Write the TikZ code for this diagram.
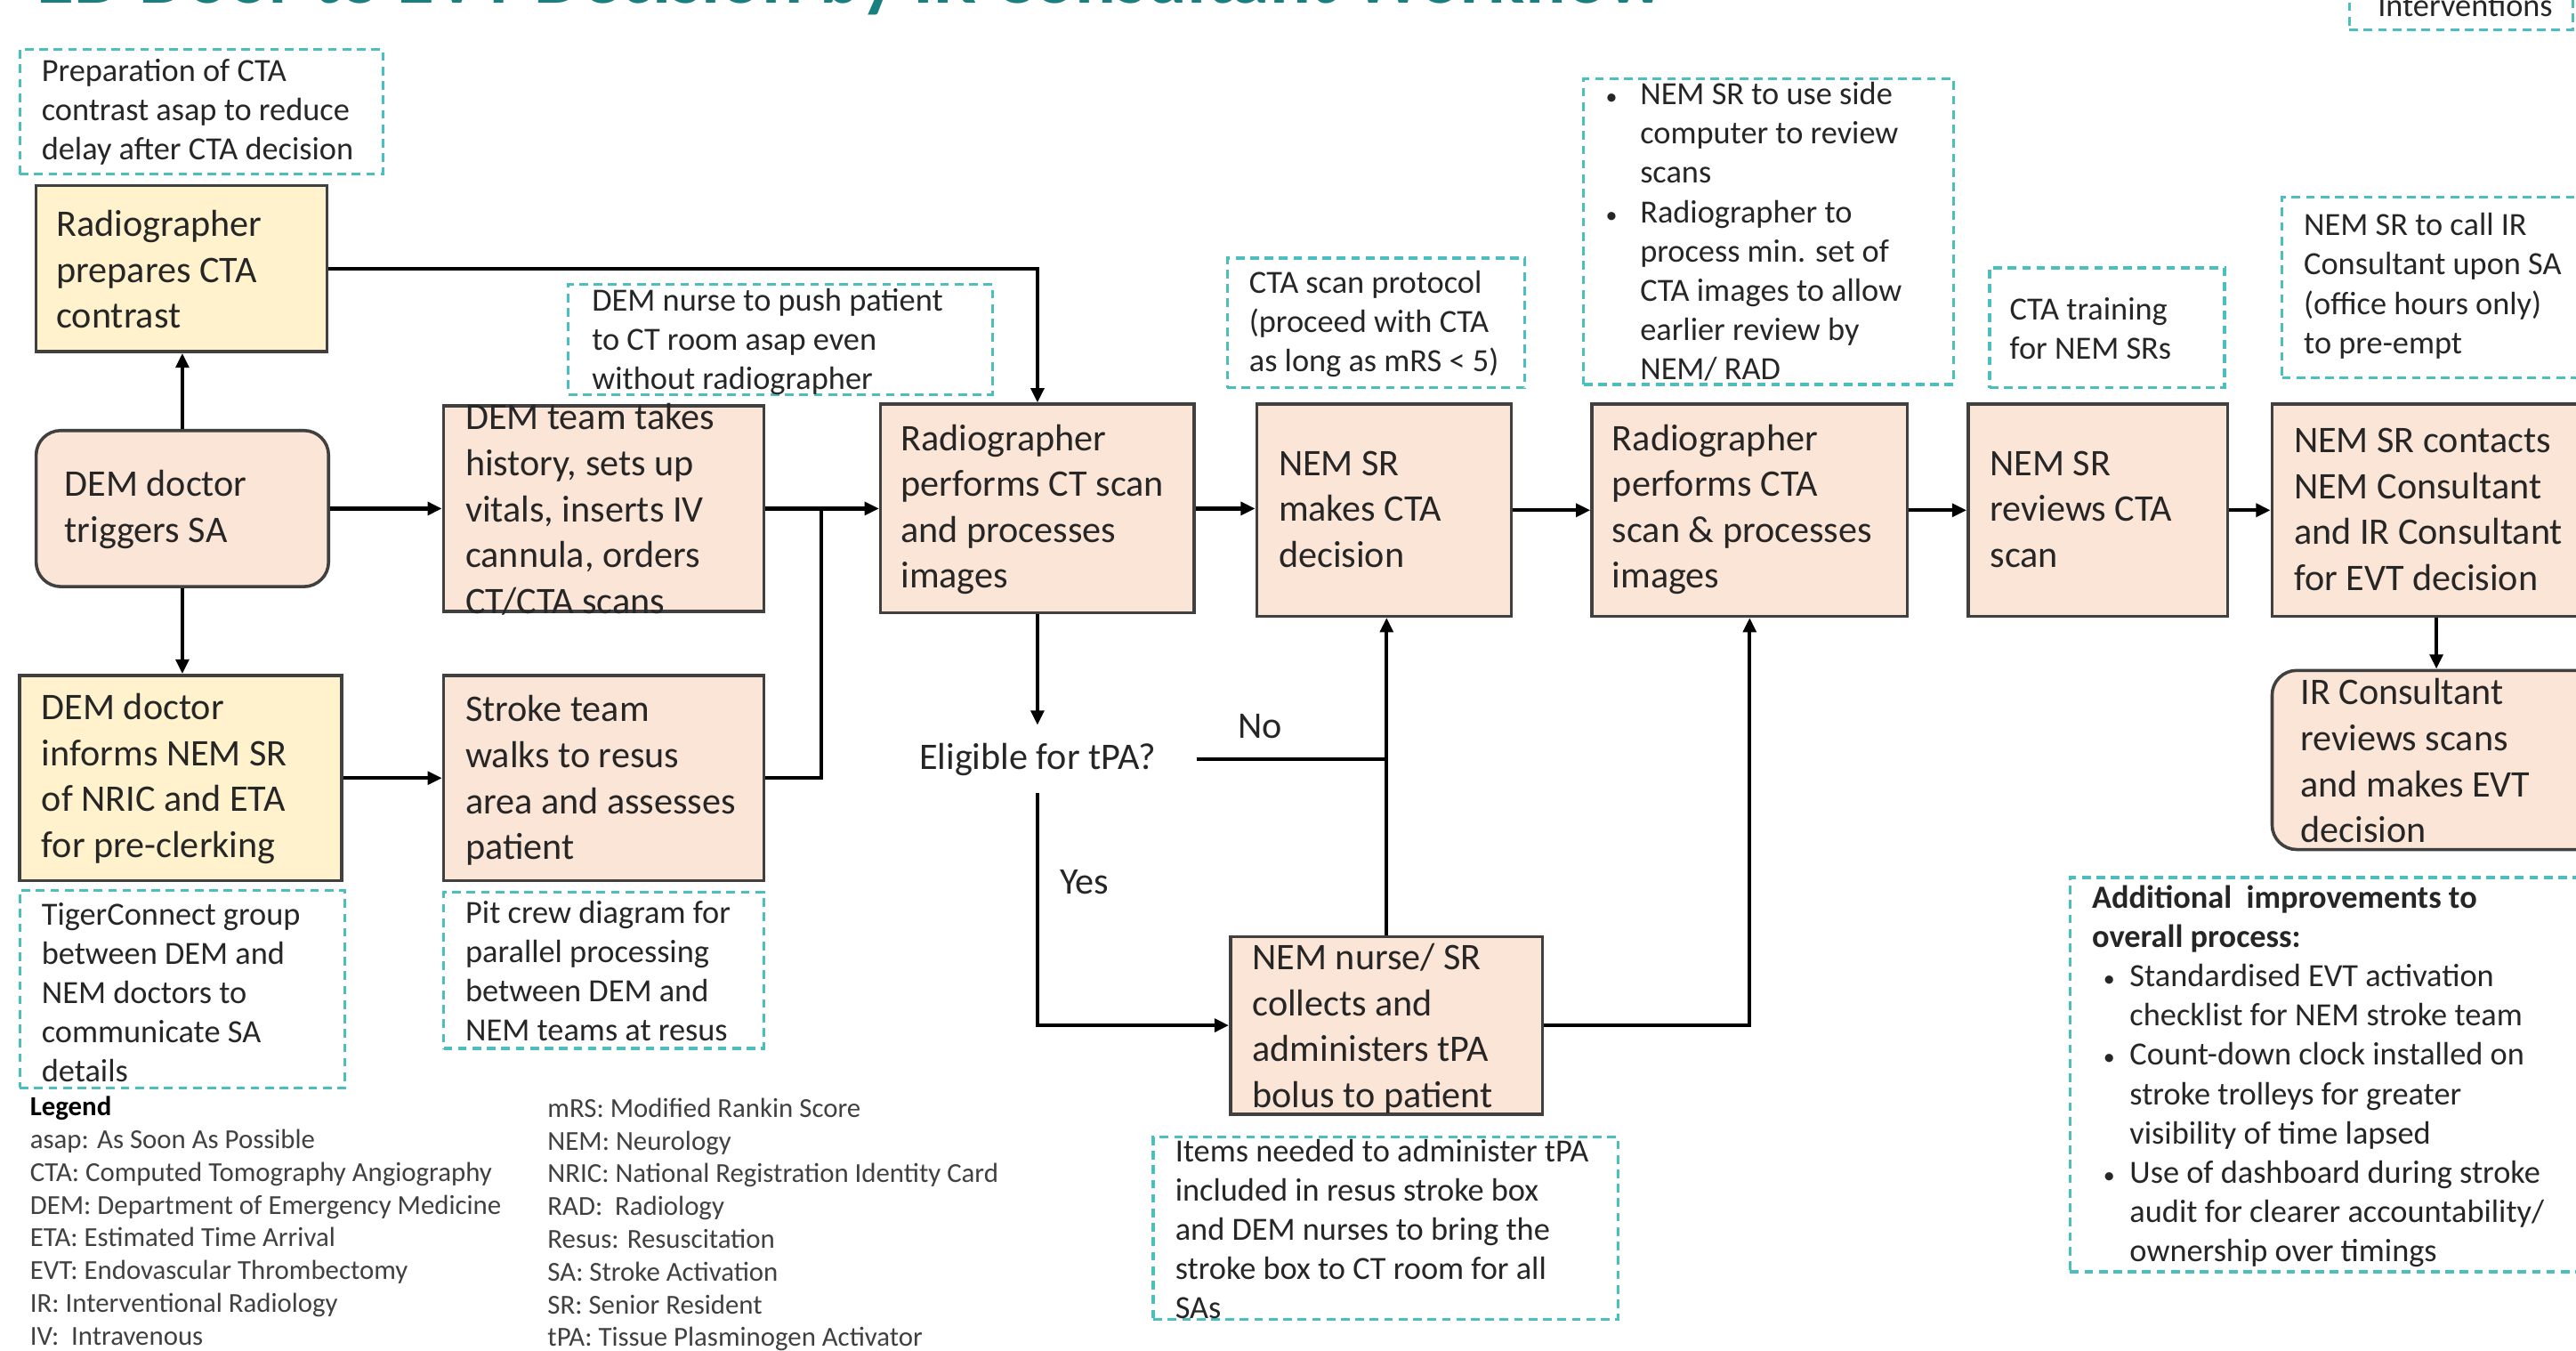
\documentclass[tikz,border=0pt]{standalone}
\usepackage{fontspec}
\setmainfont{Carlito}
\usetikzlibrary{arrows.meta,fit}
\definecolor{peach}{HTML}{FBE5D6}
\definecolor{cream}{HTML}{FFF2CC}
\definecolor{noteteal}{HTML}{4BBFBF}
\definecolor{titleteal}{HTML}{1A7F7F}
\definecolor{edgegray}{HTML}{404040}
\newcommand\smallbul{{\fontsize{8}{8}\selectfont•}}
\newcommand\mybul{\makebox[4.6mm][l]{\hspace{1.4mm}\smallbul}}
\newcommand\myind{\hspace*{4.6mm}}
\newcommand\mybulb{\makebox[4.2mm][l]{\smallbul}}
\newcommand\myindb{\hspace*{4.2mm}}
\begin{document}
\begin{tikzpicture}[x=0.2mm,y=-0.2mm,
  box/.style={draw=edgegray,line width=1.1pt,inner sep=0pt},
  pbox/.style={box,fill=peach},
  ybox/.style={box,fill=cream},
  rbox/.style={pbox,rounded corners=3mm},
  note/.style={draw=noteteal,line width=1pt,dash pattern=on 3pt off 2pt,inner sep=0pt},
  btxt/.style={anchor=west,align=left,inner sep=0pt,font=\fontsize{13}{15.9}\selectfont,text=black!85},
  ntxt/.style={anchor=west,align=left,inner sep=0pt,font=\fontsize{11.2}{13.6}\selectfont,text=black!85},
  ltxt/.style={anchor=north west,align=left,inner sep=0pt,font=\fontsize{9.5}{11.34}\selectfont,text=black!75},
  lbl/.style={inner sep=0pt,font=\fontsize{13}{15.9}\selectfont,text=black!85},
  flow/.style={line width=1.3pt,black},
  arr/.style={flow,-{Triangle[length=5pt,width=4.5pt]}},
]
\useasboundingbox (0,0) rectangle (1568,822);

% title (cut by the top edge, as in the reference)
\node[anchor=base west,inner sep=0pt,font=\fontsize{26.4}{30}\selectfont\bfseries,text=titleteal] (title) at (22,2) {ED Door to EVT Decision by IR Consultant Workflow};

% key box (cut)
\node[note,fit={(1430,-30) (1566,18)}] (key) {};
\node[ntxt,anchor=base west] (keyt) at (1447,10) {Interventions};

% boxes and notes
\node[note,fit={(12,30) (233,106)}] (n1) {};
\node[ntxt] (n1t) at (25,68) {Preparation of CTA\\contrast asap to reduce\\delay after CTA decision};

\node[ybox,fit={(22,113) (199,214)}] (A) {};
\node[btxt] (At) at (34,164) {Radiographer\\prepares CTA\\contrast};

\node[rbox,fit={(22,262) (200,357)}] (B) {};
\node[btxt] (Bt) at (39,310) {DEM doctor\\triggers SA};

\node[ybox,fit={(12,411) (208,536)}] (C) {};
\node[btxt] (Ct) at (25,474) {DEM doctor\\informs NEM SR\\of NRIC and ETA\\for pre-clerking};

\node[note,fit={(12,542) (210,662)}] (n2) {};
\node[ntxt] (n2t) at (25,604) {TigerConnect group\\between DEM and\\NEM doctors to\\communicate SA\\details};

\node[pbox,fit={(270,247) (465,372)}] (D) {};
\node[btxt] (Dt) at (283,310) {DEM team takes\\history, sets up\\vitals, inserts IV\\cannula, orders\\CT/CTA scans};

\node[note,fit={(346,173) (604,240)}] (n3) {};
\node[ntxt] (n3t) at (360,208) {DEM nurse to push patient\\to CT room asap even\\without radiographer};

\node[pbox,fit={(270,411) (465,536)}] (E) {};
\node[btxt] (Et) at (283,475) {Stroke team\\walks to resus\\area and assesses\\patient};

\node[note,fit={(270,543) (465,638)}] (n4) {};
\node[ntxt] (n4t) at (283,591) {Pit crew diagram for\\parallel processing\\between DEM and\\NEM teams at resus};

\node[pbox,fit={(536,246) (727,373)}] (F) {};
\node[btxt] (Ft) at (548,310) {Radiographer\\performs CT scan\\and processes\\images};

\node[pbox,fit={(765,246) (920,375)}] (G) {};
\node[btxt] (Gt) at (778,310) {NEM SR\\makes CTA\\decision};

\node[note,fit={(747,157) (928,236)}] (n5) {};
\node[ntxt] (n5t) at (760,197) {CTA scan protocol\\(proceed with CTA\\as long as mRS < 5)};

\node[pbox,fit={(969,246) (1161,375)}] (H) {};
\node[btxt] (Ht) at (981,310) {Radiographer\\performs CTA\\scan \& processes\\images};

\node[note,fit={(964,48) (1189,234)}] (n6) {};
\node[ntxt] (n6t) at (977,141) {\mybulb NEM SR to use side\\\myindb computer to review\\\myindb scans\\\mybulb Radiographer to\\\myindb process min. set of\\\myindb CTA images to allow\\\myindb earlier review by\\\myindb NEM/ RAD};

\node[pbox,fit={(1198,246) (1356,375)}] (I) {};
\node[btxt] (It) at (1211,310) {NEM SR\\reviews CTA\\scan};

\node[note,fit={(1211,163) (1354,236)}] (n7) {};
\node[ntxt] (n7t) at (1223,200) {CTA training\\for NEM SRs};

\node[pbox,fit={(1383,246) (1583,375)}] (J) {};
\node[btxt] (Jt) at (1396,310) {NEM SR contacts\\NEM Consultant\\and IR Consultant\\for EVT decision};

\node[note,fit={(1389,120) (1590,230)}] (n8) {};
\node[ntxt] (n8t) at (1402,174) {NEM SR to call IR\\Consultant upon SA\\(office hours only)\\to pre-empt};

\node[rbox,fit={(1383,408) (1583,517)}] (K) {};
\node[btxt] (Kt) at (1400,463) {IR Consultant\\reviews scans\\and makes EVT\\decision};

\node[note,fit={(1260,534) (1590,774)}] (n9) {};
\node[ntxt] (n9t) at (1273,655) {\textbf{Additional\ \ improvements to}\\\textbf{overall process:}\\\mybul Standardised EVT activation\\\myind checklist for NEM stroke team\\\mybul Count-down clock installed on\\\myind stroke trolleys for greater\\\myind visibility of time lapsed\\\mybul Use of dashboard during stroke\\\myind audit for clearer accountability/\\\myind ownership over timings};

\node[inner xsep=14pt,inner ysep=6pt,font=\fontsize{13}{15.9}\selectfont,text=black!85] (elig) at (631.5,462) {Eligible for tPA?};

\node[pbox,fit={(749,570) (939,678)}] (L) {};
\node[btxt] (Lt) at (762,626) {NEM nurse/ SR\\collects and\\administers tPA\\bolus to patient};

\node[note,fit={(702,692) (985,803)}] (n10) {};
\node[ntxt] (n10t) at (715,748) {Items needed to administer tPA\\included in resus stroke box\\and DEM nurses to bring the\\stroke box to CT room for all\\SAs};

\node[lbl] (no) at (767,442) {No};
\node[lbl] (yes) at (660,537) {Yes};

% legend
\node[ltxt] (leg1) at (18,667) {\textcolor{black}{\textbf{Legend}}\\asap: As Soon As Possible\\CTA: Computed Tomography Angiography\\DEM: Department of Emergency Medicine\\ETA: Estimated Time Arrival\\EVT: Endovascular Thrombectomy\\IR: Interventional Radiology\\IV:\ \ Intravenous};
\node[ltxt] (leg2) at (333,668) {mRS: Modified Rankin Score\\NEM: Neurology\\NRIC: National Registration Identity Card\\RAD:\ \ Radiology\\Resus: Resuscitation\\SA: Stroke Activation\\SR: Senior Resident\\tPA: Tissue Plasminogen Activator};

% connectors
\draw[arr] (B.north) -- (B.north |- A.south);
\draw[arr] (B.south) -- (B.south |- C.north);
\draw[arr] (B.east) -- (B.east -| D.west);
\draw[arr] (C.east) -- (C.east -| E.west);
\draw[arr] (D.east) -- (D.east -| F.west);
\coordinate (j1) at (500,309.5);
\draw[flow] (E.east) -| (j1);
\draw[arr] (A.east) -| (F.north);
\draw[arr] (F.east) -- (F.east -| G.west);
\draw[arr] (F.south) -- (F.south |- elig.north);
\coordinate (j2) at (844,462);
\draw[flow] (elig.east) -- (j2);
\draw[arr] (L.north) -- (L.north |- G.south);
\draw[arr] (elig.south) |- (L.west);
\draw[arr] (L.east) -| (H.south);
\draw[arr] (G.east) -- (G.east -| H.west);
\draw[arr] (H.east) -- (H.east -| I.west);
\draw[arr] (I.east) -- (I.east -| J.west);
\draw[arr] (J.south) -- (J.south |- K.north);
\end{tikzpicture}
\end{document}
